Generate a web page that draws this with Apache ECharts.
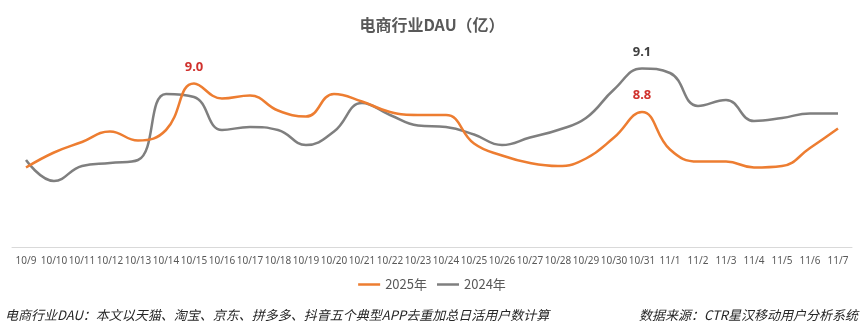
<!DOCTYPE html>
<html>
<head>
<meta charset="utf-8">
<script src="https://cdn.jsdelivr.net/npm/echarts@6/dist/echarts.min.js"></script>
<style>html,body{margin:0;padding:0;background:#fff;}#c{width:864px;height:333px;}</style>
</head>
<body>
<div id="c"></div>
<script>
const categories = ['10/9','10/10','10/11','10/12','10/13','10/14','10/15','10/16','10/17','10/18','10/19','10/20','10/21','10/22','10/23','10/24','10/25','10/26','10/27','10/28','10/29','10/30','10/31','11/1','11/2','11/3','11/4','11/5','11/6','11/7'];
const dau2025 = [8.43,8.53,8.60,8.67,8.61,8.68,8.99,8.89,8.91,8.81,8.77,8.92,8.87,8.80,8.78,8.78,8.59,8.51,8.46,8.44,8.49,8.63,8.80,8.55,8.47,8.47,8.43,8.44,8.56,8.69];
const dau2024 = [8.48,8.34,8.44,8.46,8.48,8.92,8.90,8.68,8.70,8.68,8.58,8.67,8.86,8.78,8.71,8.70,8.65,8.58,8.63,8.68,8.76,8.95,9.09,9.06,8.84,8.88,8.74,8.76,8.79,8.79];
const seriesNames = ['2025年','2024年'];
const labels2025 = {6:'9.0', 22:'8.8'};
const labels2024 = {22:'9.1'};

function build(values, labels, color) {
  return values.map((v, i) => labels[i] !== undefined ? {
    value: v,
    label: {show: true, position: 'top', distance: 10, formatter: labels[i], color: color, fontSize: 13, fontWeight: 'bold', fontFamily: '"Noto Sans", sans-serif'}
  } : v);
}

const chart = echarts.init(document.getElementById('c'), null, {renderer: 'canvas'});
const font = '"Noto Sans CJK SC", "Noto Sans", sans-serif';
chart.setOption({
  backgroundColor: '#fff',
  animation: false,
  title: {
    text: '电商行业DAU（亿）',
    left: 'center', top: 12,
    textStyle: {fontSize: 16, fontWeight: 'bold', color: '#595959', fontFamily: font}
  },
  legend: {
    data: [{name: seriesNames[0], icon: 'rect'}, {name: seriesNames[1], icon: 'rect'}],
    bottom: 37,
    left: 'center',
    itemWidth: 22, itemHeight: 2.5, itemGap: 10,
    textStyle: {fontSize: 13, color: '#595959', fontFamily: font}
  },
  grid: {left: 12, right: 12, top: 37, bottom: 86, containLabel: false},
  xAxis: {
    type: 'category',
    data: categories,
    boundaryGap: true,
    axisLine: {lineStyle: {color: '#d9d9d9', width: 1}},
    axisTick: {show: false},
    axisLabel: {interval: 0, fontSize: 10, color: '#595959', margin: 9, fontFamily: '"Noto Sans", sans-serif'}
  },
  yAxis: {
    type: 'value', min: 7.9, max: 9.3, show: false,
    splitLine: {show: false}
  },
  series: [
    {
      name: seriesNames[0], type: 'line', smooth: 0.45, symbol: 'circle', symbolSize: 0, showSymbol: true,
      lineStyle: {color: '#ED7D31', width: 2.5}, itemStyle: {color: '#ED7D31'},
      data: build(dau2025, labels2025, '#D0312D'), z: 3
    },
    {
      name: seriesNames[1], type: 'line', smooth: 0.45, symbol: 'circle', symbolSize: 0, showSymbol: true,
      lineStyle: {color: '#7F7F7F', width: 2.5}, itemStyle: {color: '#7F7F7F'},
      data: build(dau2024, labels2024, '#404040'), z: 2
    }
  ],
  graphic: [
    {type: 'text', left: 5, top: 309, style: {text: '电商行业DAU：本文以天猫、淘宝、京东、拼多多、抖音五个典型APP去重加总日活用户数计算', fontSize: 13, fontStyle: 'italic', fill: '#262626', fontFamily: font}},
    {type: 'text', right: 6, top: 309, style: {text: '数据来源：CTR星汉移动用户分析系统', fontSize: 13, fontStyle: 'italic', fill: '#262626', fontFamily: font}}
  ]
});
</script>
</body>
</html>
